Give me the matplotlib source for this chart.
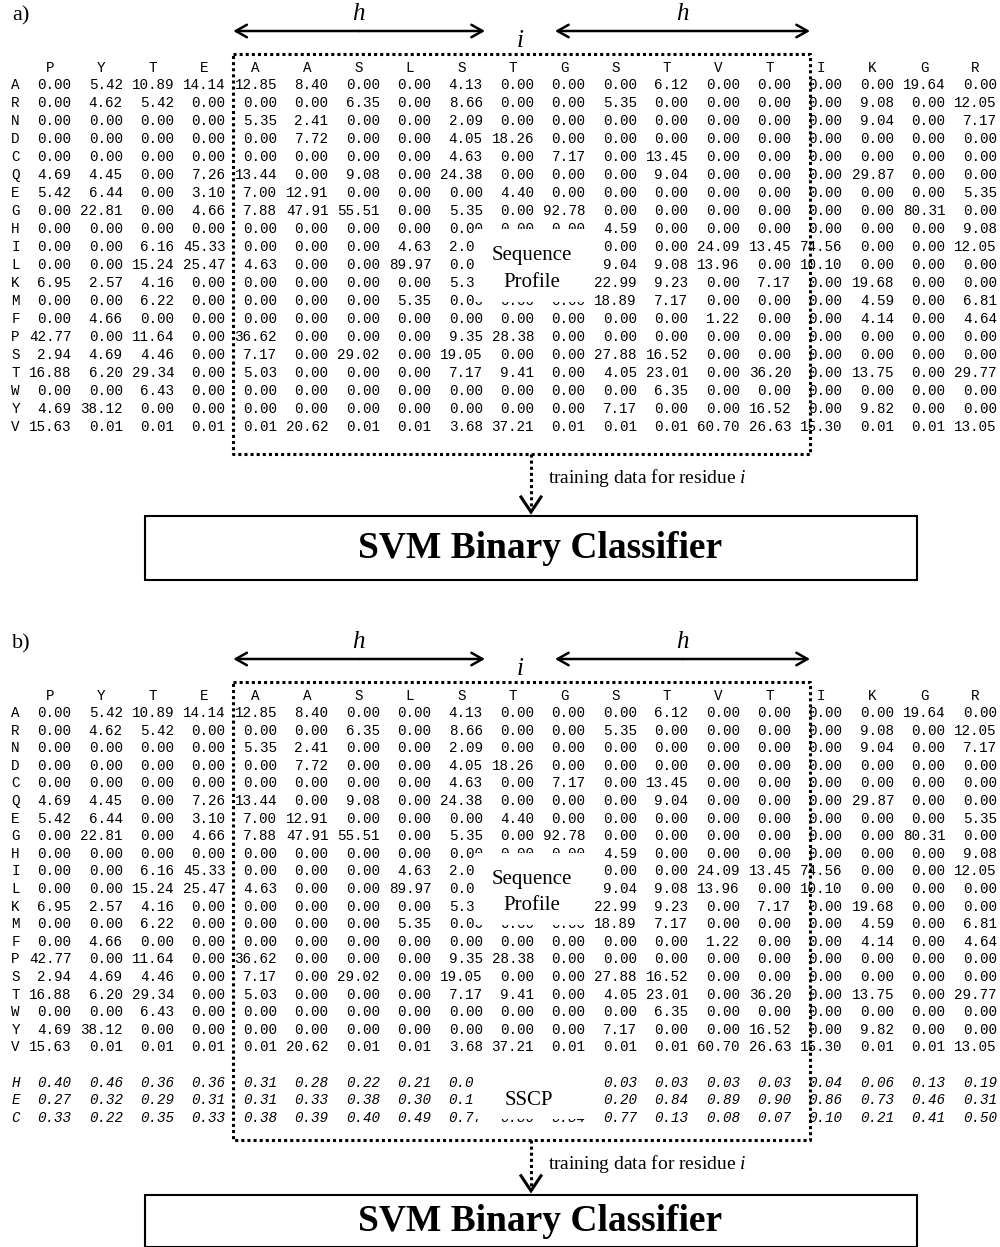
import numpy as np
import matplotlib.pyplot as plt
from matplotlib.patches import Rectangle

plt.rcParams['mathtext.fontset'] = 'custom'
plt.rcParams['mathtext.rm'] = 'Liberation Serif'
plt.rcParams['mathtext.it'] = 'Liberation Serif:italic'

## sequence window (columns) and amino acid rows
residues = ['P', 'Y', 'T', 'E', 'A', 'A', 'S', 'L', 'S', 'T', 'G', 'S', 'T', 'V', 'T', 'I', 'K', 'G', 'R']
amino = ['A', 'R', 'N', 'D', 'C', 'Q', 'E', 'G', 'H', 'I', 'L', 'K', 'M', 'F', 'P', 'S', 'T', 'W', 'Y', 'V']

## sequence profile (rows = amino, cols = residues)
# cells hidden behind the "Sequence Profile" label are rough guesses
profile = [
    [0.00, 5.42, 10.89, 14.14, 12.85, 8.40, 0.00, 0.00, 4.13, 0.00, 0.00, 0.00, 6.12, 0.00, 0.00, 0.00, 0.00, 19.64, 0.00],
    [0.00, 4.62, 5.42, 0.00, 0.00, 0.00, 6.35, 0.00, 8.66, 0.00, 0.00, 5.35, 0.00, 0.00, 0.00, 0.00, 9.08, 0.00, 12.05],
    [0.00, 0.00, 0.00, 0.00, 5.35, 2.41, 0.00, 0.00, 2.09, 0.00, 0.00, 0.00, 0.00, 0.00, 0.00, 0.00, 9.04, 0.00, 7.17],
    [0.00, 0.00, 0.00, 0.00, 0.00, 7.72, 0.00, 0.00, 4.05, 18.26, 0.00, 0.00, 0.00, 0.00, 0.00, 0.00, 0.00, 0.00, 0.00],
    [0.00, 0.00, 0.00, 0.00, 0.00, 0.00, 0.00, 0.00, 4.63, 0.00, 7.17, 0.00, 13.45, 0.00, 0.00, 0.00, 0.00, 0.00, 0.00],
    [4.69, 4.45, 0.00, 7.26, 13.44, 0.00, 9.08, 0.00, 24.38, 0.00, 0.00, 0.00, 9.04, 0.00, 0.00, 0.00, 29.87, 0.00, 0.00],
    [5.42, 6.44, 0.00, 3.10, 7.00, 12.91, 0.00, 0.00, 0.00, 4.40, 0.00, 0.00, 0.00, 0.00, 0.00, 0.00, 0.00, 0.00, 5.35],
    [0.00, 22.81, 0.00, 4.66, 7.88, 47.91, 55.51, 0.00, 5.35, 0.00, 92.78, 0.00, 0.00, 0.00, 0.00, 0.00, 0.00, 80.31, 0.00],
    [0.00, 0.00, 0.00, 0.00, 0.00, 0.00, 0.00, 0.00, 0.00, 0.00, 0.00, 4.59, 0.00, 0.00, 0.00, 0.00, 0.00, 0.00, 9.08],
    [0.00, 0.00, 6.16, 45.33, 0.00, 0.00, 0.00, 4.63, 2.09, 0.00, 0.00, 0.00, 0.00, 24.09, 13.45, 74.56, 0.00, 0.00, 12.05],
    [0.00, 0.00, 15.24, 25.47, 4.63, 0.00, 0.00, 89.97, 0.00, 0.00, 0.00, 9.04, 9.08, 13.96, 0.00, 10.10, 0.00, 0.00, 0.00],
    [6.95, 2.57, 4.16, 0.00, 0.00, 0.00, 0.00, 0.00, 5.35, 0.00, 0.00, 22.99, 9.23, 0.00, 7.17, 0.00, 19.68, 0.00, 0.00],
    [0.00, 0.00, 6.22, 0.00, 0.00, 0.00, 0.00, 5.35, 0.00, 0.00, 0.00, 18.89, 7.17, 0.00, 0.00, 0.00, 4.59, 0.00, 6.81],
    [0.00, 4.66, 0.00, 0.00, 0.00, 0.00, 0.00, 0.00, 0.00, 0.00, 0.00, 0.00, 0.00, 1.22, 0.00, 0.00, 4.14, 0.00, 4.64],
    [42.77, 0.00, 11.64, 0.00, 36.62, 0.00, 0.00, 0.00, 9.35, 28.38, 0.00, 0.00, 0.00, 0.00, 0.00, 0.00, 0.00, 0.00, 0.00],
    [2.94, 4.69, 4.46, 0.00, 7.17, 0.00, 29.02, 0.00, 19.05, 0.00, 0.00, 27.88, 16.52, 0.00, 0.00, 0.00, 0.00, 0.00, 0.00],
    [16.88, 6.20, 29.34, 0.00, 5.03, 0.00, 0.00, 0.00, 7.17, 9.41, 0.00, 4.05, 23.01, 0.00, 36.20, 0.00, 13.75, 0.00, 29.77],
    [0.00, 0.00, 6.43, 0.00, 0.00, 0.00, 0.00, 0.00, 0.00, 0.00, 0.00, 0.00, 6.35, 0.00, 0.00, 0.00, 0.00, 0.00, 0.00],
    [4.69, 38.12, 0.00, 0.00, 0.00, 0.00, 0.00, 0.00, 0.00, 0.00, 0.00, 7.17, 0.00, 0.00, 16.52, 0.00, 9.82, 0.00, 0.00],
    [15.63, 0.01, 0.01, 0.01, 0.01, 20.62, 0.01, 0.01, 3.68, 37.21, 0.01, 0.01, 0.01, 60.70, 26.63, 15.30, 0.01, 0.01, 13.05],
]

## secondary structure class profile (panel b only)
ss_labels = ['H', 'E', 'C']
sscp = [
    [0.40, 0.46, 0.36, 0.36, 0.31, 0.28, 0.22, 0.21, 0.05, 0.03, 0.03, 0.03, 0.03, 0.03, 0.03, 0.04, 0.06, 0.13, 0.19],
    [0.27, 0.32, 0.29, 0.31, 0.31, 0.33, 0.38, 0.30, 0.18, 0.11, 0.13, 0.20, 0.84, 0.89, 0.90, 0.86, 0.73, 0.46, 0.31],
    [0.33, 0.22, 0.35, 0.33, 0.38, 0.39, 0.40, 0.49, 0.77, 0.86, 0.84, 0.77, 0.13, 0.08, 0.07, 0.10, 0.21, 0.41, 0.50],
]

## layout (pixels)
W, H = 1000, 1247
x0 = 11.3          # left edge of text grid
cw = 8.57          # monospace char width
mono = 'Liberation Mono'
serif = 'Liberation Serif'
fs_tab = 10.3

fig = plt.figure(figsize=(W / 100, H / 100), dpi=100)
ax = fig.add_axes([0, 0, 1, 1])
ax.set_xlim(0, W)
ax.set_ylim(H, 0)
ax.axis('off')


def col_right(j):
    return x0 + (1 + 6 * (j + 1)) * cw


def col_head(j):
    return x0 + (4.5 + 6 * j) * cw


def double_arrow(xa, xb, y):
    ## <-> drawn as two one-sided arrows so both heads look the same
    for s, e in [(xa, xb), (xb, xa)]:
        ax.annotate('', xy=(s, y), xytext=((s + e) / 2, y),
                    arrowprops=dict(arrowstyle='->,head_length=0.8,head_width=0.45', lw=1.8,
                                    color='black', shrinkA=0, shrinkB=0))


def draw_panel(top, tag, p, with_ss, bb_pad, tip_gap, svm_h):
    row0 = top + 85
    ry = lambda r: row0 + r * p

    ax.text(12, top + 16, tag, fontsize=16, family=serif, ha='left', va='center')

    ## header
    for j, res in enumerate(residues):
        ax.text(col_head(j), top + 68, res, fontsize=fs_tab, family=mono, ha='center', va='center')

    ## profile cells
    for r, aa in enumerate(amino):
        ax.text(x0 + 0.5 * cw, ry(r), aa, fontsize=fs_tab, family=mono, ha='center', va='center')
        for j, v in enumerate(profile[r]):
            ax.text(col_right(j), ry(r), '%.2f' % v, fontsize=fs_tab, family=mono,
                    ha='right', va='center')
    last = len(amino) - 1

    if with_ss:
        for k, lab in enumerate(ss_labels):
            r = len(amino) + 1 + k
            ax.text(x0 + 0.5 * cw, ry(r), lab, fontsize=fs_tab, family=mono, style='italic',
                    ha='center', va='center')
            for j, v in enumerate(sscp[k]):
                ax.text(col_right(j), ry(r), '%.2f' % v, fontsize=fs_tab, family=mono,
                        style='italic', ha='right', va='center')
        last = len(amino) + len(ss_labels)

    ## window box
    bl = x0 + 25.9 * cw
    br = x0 + 93.2 * cw
    bt = top + 54
    bb = ry(last) + bb_pad
    ax.plot([bl, br, br, bl, bl], [bt, bt, bb, bb, bt], color='black', lw=2.2,
            linestyle=(0, (1, 1)), zorder=5)

    ## h arrows and i
    ix = 520
    double_arrow(bl, ix - 35, top + 31)
    double_arrow(ix + 35, br, top + 31)
    ax.text((bl + ix - 35) / 2, top + 13, '$h$', fontsize=18, ha='center', va='center')
    ax.text((br + ix + 35) / 2, top + 13, '$h$', fontsize=18, ha='center', va='center')
    ax.text(ix, top + 40, '$i$', fontsize=18, ha='center', va='center')

    ## label boxes over the table
    lx0 = x0 + 54 * cw
    lx1 = x0 + 68 * cw
    ax.add_patch(Rectangle((lx0, ry(8) - 0.5), lx1 - lx0, ry(12) - ry(8) + 1.5,
                           facecolor='white', edgecolor='none', zorder=3))
    ax.text(532, ry(9.45), 'Sequence', fontsize=15, family=serif, ha='center', va='center', zorder=4)
    ax.text(532, ry(10.95), 'Profile', fontsize=15, family=serif, ha='center', va='center', zorder=4)
    if with_ss:
        r1 = len(amino) + 1
        ax.add_patch(Rectangle((lx0, ry(r1) - 0.7 * p), lx1 - lx0, ry(r1 + 2) - ry(r1) + 0.7 * p + 1,
                               facecolor='white', edgecolor='none', zorder=3))
        ax.text(529, ry(r1 + 1), 'SSCP', fontsize=15, family=serif, ha='center', va='center', zorder=4)

    ## arrow to classifier
    axx = 531
    tip = bb + tip_gap
    ax.plot([axx, axx], [bb, tip - 3], color='black', lw=2.2, linestyle=(0, (1, 1)), zorder=5)
    ax.plot([axx - 10, axx, axx + 10], [tip - 15, tip, tip - 15], color='black', lw=2.2,
            solid_joinstyle='miter')
    ax.text(axx + 17, bb + 24, r'training data for residue $i$', fontsize=14, family=serif,
            ha='left', va='center')

    ## SVM box
    st = tip + 4
    ax.add_patch(Rectangle((axx - 386, st), 772, svm_h, facecolor='none', edgecolor='black', lw=1.5))
    ax.text(axx + 9, st + svm_h / 2 + 1, 'SVM Binary Classifier', fontsize=27, family=serif,
            weight='bold', ha='center', va='center')


draw_panel(0, 'a)', 18.0, False, 27, 58, 64)
draw_panel(628, 'b)', 17.6, True, 22, 51, 52)

plt.savefig('out.png', dpi=100)
